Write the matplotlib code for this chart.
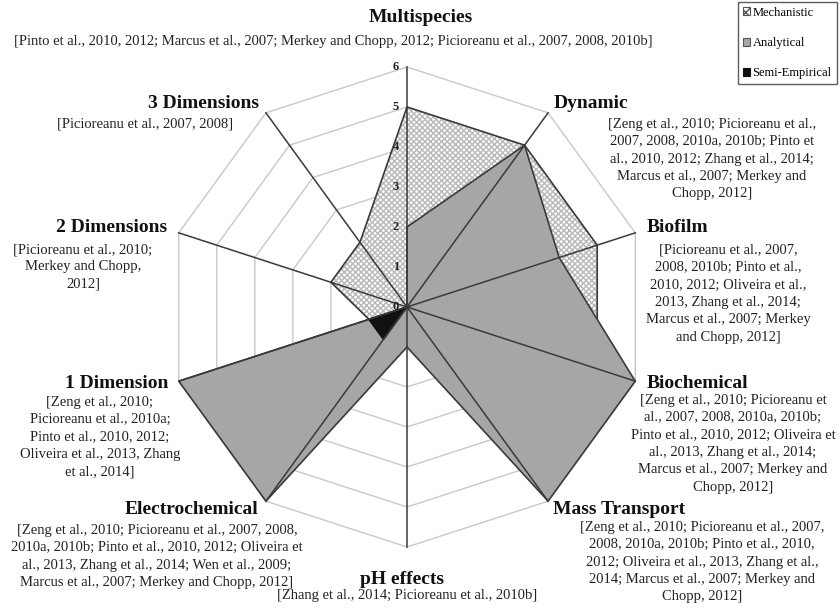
import numpy as np
import matplotlib
matplotlib.use("Agg")
import matplotlib.pyplot as plt
from matplotlib.patches import Polygon, Patch

plt.rcParams['font.family'] = ['Liberation Serif', 'DejaVu Serif']

# radar axes, clockwise from the top
categories = ['Multispecies', 'Dynamic', 'Biofilm', 'Biochemical', 'Mass Transport',
              'pH effects', 'Electrochemical', '1 Dimension', '2 Dimensions', '3 Dimensions']
citations = [
    '[Pinto et al., 2010, 2012; Marcus et al., 2007; Merkey and Chopp, 2012; Picioreanu et al., 2007, 2008, 2010b]',
    '[Zeng et al., 2010; Picioreanu et al.,\n2007, 2008, 2010a, 2010b; Pinto et\nal., 2010, 2012; Zhang et al., 2014;\nMarcus et al., 2007; Merkey and\nChopp, 2012]',
    '[Picioreanu et al., 2007,\n2008, 2010b; Pinto et al.,\n2010, 2012; Oliveira et al.,\n2013, Zhang et al., 2014;\nMarcus et al., 2007; Merkey\nand Chopp, 2012]',
    '[Zeng et al., 2010; Picioreanu et\nal., 2007, 2008, 2010a, 2010b;\nPinto et al., 2010, 2012; Oliveira et\nal., 2013, Zhang et al., 2014;\nMarcus et al., 2007; Merkey and\nChopp, 2012]',
    '[Zeng et al., 2010; Picioreanu et al., 2007,\n2008, 2010a, 2010b; Pinto et al., 2010,\n2012; Oliveira et al., 2013, Zhang et al.,\n2014; Marcus et al., 2007; Merkey and\nChopp, 2012]',
    '[Zhang et al., 2014; Picioreanu et al., 2010b]',
    '[Zeng et al., 2010; Picioreanu et al., 2007, 2008,\n2010a, 2010b; Pinto et al., 2010, 2012; Oliveira et\nal., 2013, Zhang et al., 2014; Wen et al., 2009;\nMarcus et al., 2007; Merkey and Chopp, 2012]',
    '[Zeng et al., 2010;\nPicioreanu et al., 2010a;\nPinto et al., 2010, 2012;\nOliveira et al., 2013, Zhang\net al., 2014]',
    '[Picioreanu et al., 2010;\nMerkey and Chopp,\n2012]',
    '[Picioreanu et al., 2007, 2008]',
]

series_names = ['Mechanistic', 'Analytical', 'Semi-Empirical']
mechanistic = [5, 5, 5, 5, 5, 0, 5, 1, 2, 2]
analytical = [2, 5, 4, 6, 6, 1, 6, 6, 0, 0]
semi_empirical = [0, 0, 0, 0, 0, 0, 1, 1, 0, 0]
rticks = [0, 1, 2, 3, 4, 5, 6]

# label anchors in pixels (title centre, citation centre-x / top)
title_pos = [(421, 17), (591, 103), (677, 228), (697, 383), (619, 510),
             (402, 580), (192, 510), (117, 383), (112, 228), (203, 104)]
cite_pos = [(333, 35), (712, 118), (728, 244), (733, 394), (702, 521),
            (407, 589), (157, 524), (100, 396), (83, 243), (145, 118)]

CX, CY, PX = 407, 307, 40.0   # centre in pixels, pixels per unit


def px(x, y):
    return (x - CX) / PX, (CY - y) / PX


n = len(categories)
theta = np.arange(n) * 2 * np.pi / n


def xy(vals):
    v = np.asarray(vals, dtype=float)
    return np.column_stack([v * np.sin(theta), v * np.cos(theta)])


fig = plt.figure(figsize=(8.4, 6.08), dpi=100)
ax = fig.add_axes([0, 0, 1, 1])
ax.set_xlim(px(0, 0)[0], px(840, 0)[0])
ax.set_ylim(px(0, 608)[1], px(0, 0)[1])
ax.axis('off')

# grid decagons
for r in rticks[1:]:
    ax.add_patch(Polygon(xy([r] * n), closed=True, fill=False,
                         edgecolor='#c8c8c8', linewidth=1.0, zorder=1))

# series
ax.add_patch(Polygon(xy(mechanistic), closed=True, facecolor='white',
                     edgecolor='#b8b8b8', hatch='xxxxxx', linewidth=0, zorder=2))
ax.add_patch(Polygon(xy(mechanistic), closed=True, fill=False,
                     edgecolor='#3a3a3a', linewidth=1.2, zorder=2))
ax.add_patch(Polygon(xy(analytical), closed=True, facecolor='#a6a6a6',
                     edgecolor='#3a3a3a', linewidth=1.2, zorder=3))
ax.add_patch(Polygon(xy(semi_empirical), closed=True, facecolor='#111111',
                     edgecolor='#111111', linewidth=1.2, zorder=4))

# spokes
outer = xy([rticks[-1]] * n)
for x, y in outer:
    ax.plot([0, x], [0, y], color='#3a3a3a', linewidth=1.1, zorder=5)

# radial tick labels
for r in rticks:
    ax.text(-0.2, r, str(r), ha='right', va='center', fontsize=9,
            fontweight='bold', color='#222222', zorder=6)

# category titles and citations
for i in range(n):
    tx, ty = px(*title_pos[i])
    ax.text(tx, ty, categories[i], ha='center', va='center', fontsize=14,
            fontweight='bold', color='#111111')
    cx, cy = px(*cite_pos[i])
    ax.text(cx, cy, citations[i], ha='center', va='top', fontsize=10.5,
            color='#222222', linespacing=1.43, multialignment='center')

handles = [Patch(facecolor='white', edgecolor='#555555', hatch='xxxx', linewidth=0.8),
           Patch(facecolor='#a6a6a6', edgecolor='#555555', linewidth=0.8),
           Patch(facecolor='#111111', edgecolor='#111111', linewidth=0.8)]
leg = fig.legend(handles, series_names, loc='upper right', bbox_to_anchor=(0.996, 0.997),
                 fontsize=9, frameon=True, fancybox=False, edgecolor='#333333',
                 handlelength=0.6, handleheight=0.6, handletextpad=0.2,
                 labelspacing=1.45, borderpad=0.4, borderaxespad=0)
leg.get_frame().set_linewidth(1.0)

fig.savefig('out.png', dpi=100, facecolor='white')
